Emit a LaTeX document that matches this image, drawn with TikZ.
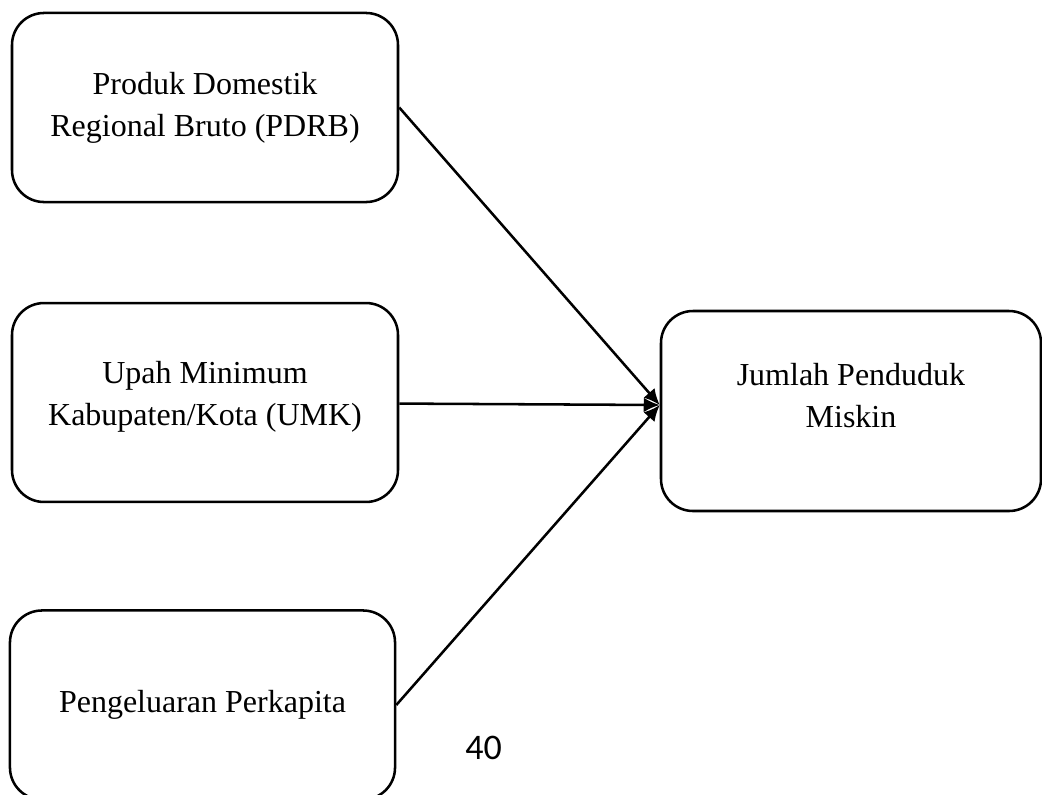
\documentclass[tikz,border=0pt]{standalone}
\usepackage{fontspec}
\setmainfont{Liberation Serif}
\newfontfamily\pagefont{Carlito}
\usetikzlibrary{arrows.meta,positioning,calc}

\begin{document}
\begin{tikzpicture}[
  x=0.375pt, y=-0.375pt,
  >=Latex,
  every node/.style={font=\fontsize{12pt}{15.75pt}\selectfont},
  var/.style={draw, rounded corners=12pt, line width=0.95pt, align=center, inner sep=0pt},
  link/.style={-{Latex[length=6pt,width=5.5pt]}, line width=0.95pt}
]
\useasboundingbox (0,0) rectangle (1042,794);

\node[var, minimum width=144.75pt, minimum height=70.9pt] (PDRB) at (205,107.5) {Produk Domestik\\Regional Bruto (PDRB)};
\node[var, minimum width=144.75pt, minimum height=74.6pt, text depth=7pt] (UMK) at (205,402.5) {Upah Minimum\\Kabupaten/Kota (UMK)};
\node[var, minimum width=144.4pt, minimum height=70.9pt] (PK) at (202.5,705) {Pengeluaran Perkapita};
\node[var, minimum width=142.5pt, minimum height=75pt, text depth=11.5pt] (Miskin) at (851,411) {Jumlah Penduduk\\Miskin};
\coordinate (hit) at ($(Miskin.west)+(0,-6)$);

\draw[link] (PDRB.east) -- (hit);
\draw[link] (UMK) -- (hit);
\draw[link] (PK.east) -- (hit);

\node[font=\pagefont\fontsize{13.5pt}{16pt}\selectfont] (page) at (483.5,748) {40};
\end{tikzpicture}
\end{document}
